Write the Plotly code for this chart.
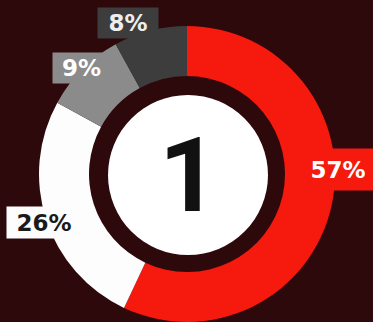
import plotly.graph_objects as go

# Data
labels = ["57%", "26%", "9%", "8%"]
values = [57, 26, 9, 8]
colors = ["#f5190e", "#fdfdfd", "#8b8b8b", "#3d3d3d"]
text_colors = ["#ffffff", "#1a1a1a", "#ffffff", "#eeeeee"]
center_label = "1"

W, H = 373, 322
CX, CY, R = 187, 174, 148
HOLE_R = 98
INNER_R = 80


def px(x):
    return x / W


def py(y):
    return 1 - y / H


fig = go.Figure()
fig.add_trace(go.Pie(
    labels=labels,
    values=values,
    sort=False,
    direction="clockwise",
    rotation=0,
    hole=HOLE_R / R,
    marker=dict(colors=colors, line=dict(width=0)),
    textinfo="none",
    hoverinfo="skip",
    showlegend=False,
    domain=dict(x=[px(CX - R), px(CX + R)], y=[max(0, py(CY + R)), py(CY - R)]),
))

# inner white disc
fig.add_shape(type="circle", xref="paper", yref="paper",
              x0=px(CX - INNER_R + 1), x1=px(CX + INNER_R + 1),
              y0=py(CY + INNER_R + 1), y1=py(CY - INNER_R + 1),
              fillcolor="#ffffff", line=dict(width=0))

# (box centre x, box centre y, box width, box height)
label_boxes = [(338, 169, 76, 41), (44, 222, 74, 31), (81, 68, 57, 30), (128, 23, 60, 30)]
font_fam = "DejaVu Sans"
for lab, col, tcol, (x, y, bw, bh) in zip(labels, colors, text_colors, label_boxes):
    fig.add_annotation(x=px(x), y=py(y), xref="paper", yref="paper",
                       text="<b>" + lab + "</b>", showarrow=False,
                       font=dict(family=font_fam, size=23, color=tcol),
                       width=bw, height=bh, align="center", valign="middle",
                       bgcolor=col, borderpad=0, xanchor="center", yanchor="middle")

fig.add_annotation(x=px(189), y=py(175), xref="paper", yref="paper",
                   text="<b>" + center_label + "</b>", showarrow=False,
                   font=dict(family="Roboto", size=104, color="#111111"),
                   xanchor="center", yanchor="middle")

fig.update_layout(width=W, height=H, margin=dict(l=0, r=0, t=0, b=0),
                  paper_bgcolor="#2e090c", plot_bgcolor="#2e090c")
fig.write_html("out.html")
